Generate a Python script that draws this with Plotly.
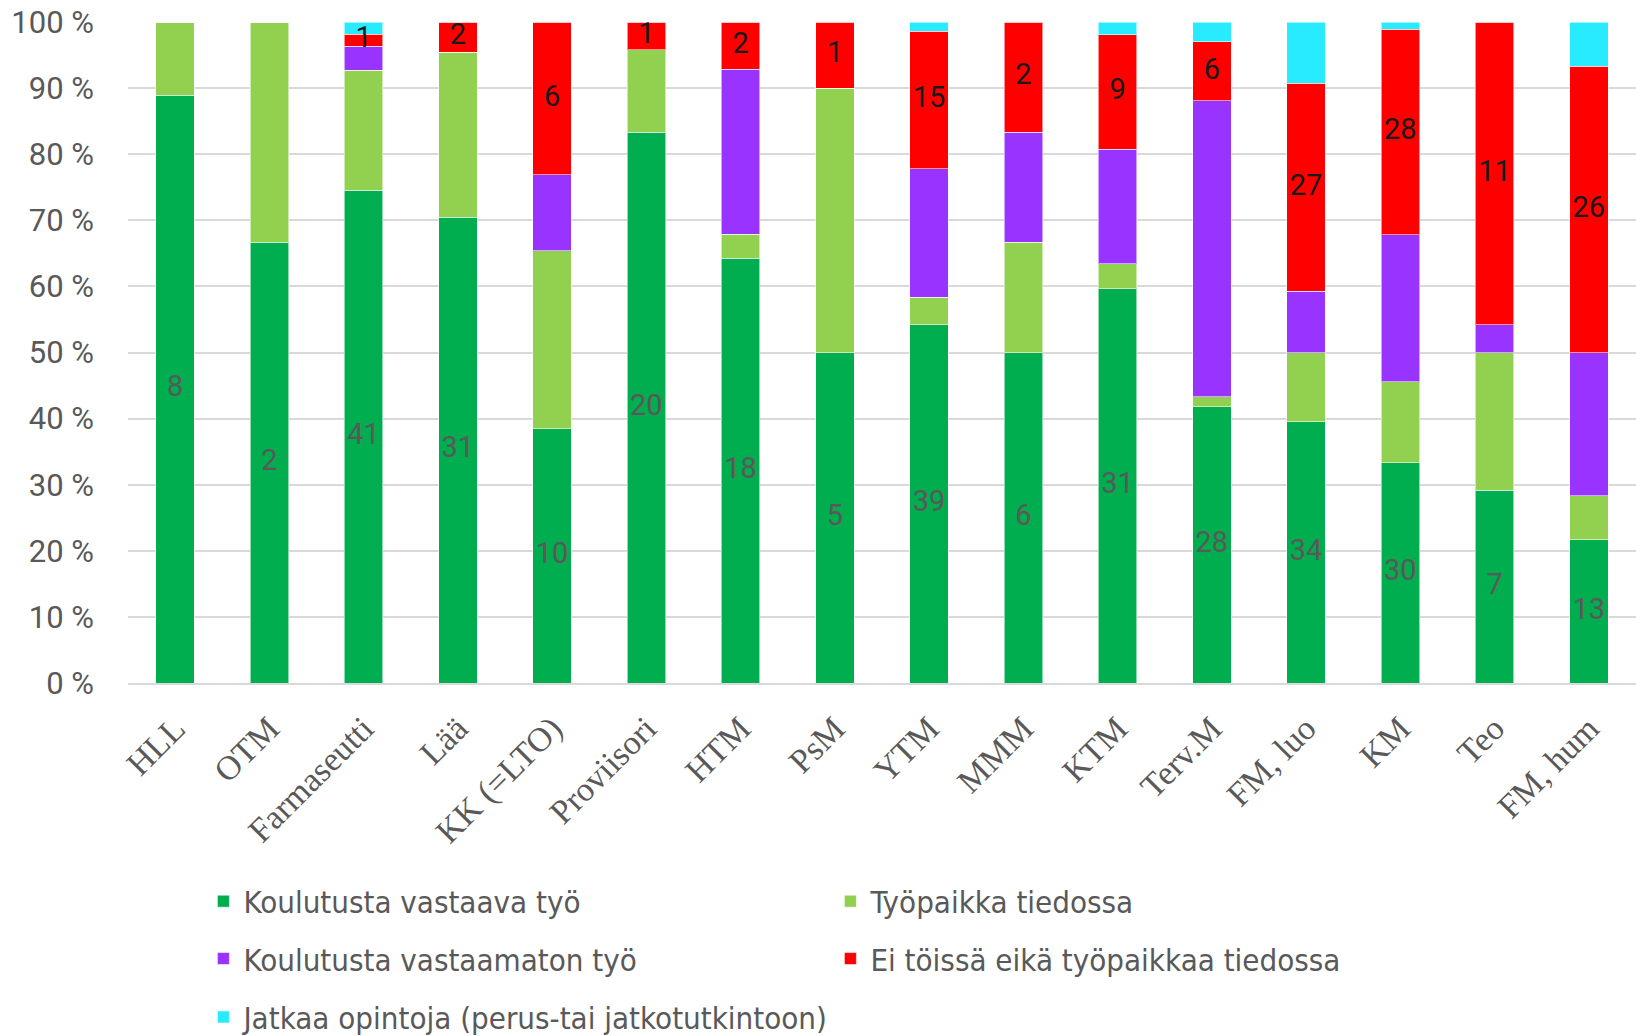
import plotly.graph_objects as go

categories = ["HLL", "OTM", "Farmaseutti", "Lää", "KK (=LTO)", "Proviisori", "HTM", "PsM",
              "YTM", "MMM", "KTM", "Terv.M", "FM, luo", "KM", "Teo", "FM, hum"]

koulutusta_vastaava = [8, 2, 41, 31, 10, 20, 18, 5, 39, 6, 31, 28, 34, 30, 7, 13]
tyopaikka_tiedossa = [1, 1, 10, 11, 7, 3, 1, 4, 3, 2, 2, 1, 9, 11, 5, 4]
koulutusta_vastaamaton = [0, 0, 2, 0, 3, 0, 7, 0, 14, 2, 9, 30, 8, 20, 1, 13]
ei_toissa = [0, 0, 1, 2, 6, 1, 2, 1, 15, 2, 9, 6, 27, 28, 11, 26]
jatkaa_opintoja = [0, 0, 1, 0, 0, 0, 0, 0, 1, 0, 1, 2, 8, 1, 0, 4]

series = [
    ("Koulutusta vastaava työ", koulutusta_vastaava, "#00AD4F", "#595959", "legend"),
    ("Työpaikka tiedossa", tyopaikka_tiedossa, "#92D050", None, "legend"),
    ("Koulutusta vastaamaton työ", koulutusta_vastaamaton, "#9933FF", None, "legend2"),
    ("Ei töissä eikä työpaikkaa tiedossa", ei_toissa, "#FF0000", "#1a1a1a", "legend2"),
    ("Jatkaa opintoja (perus-tai jatkotutkintoon)", jatkaa_opintoja, "#29EBFF", None, "legend3"),
]

totals = [sum(s[1][i] for s in series) for i in range(len(categories))]

fig = go.Figure()
base = [0.0] * len(categories)
label_traces = []
for name, vals, color, tcolor, leg in series:
    fig.add_trace(go.Bar(name=name, x=categories, y=vals,
                         marker=dict(color=color, line=dict(color="rgba(255,255,255,0.55)", width=1)),
                         legend=leg, textposition="none", hoverinfo="skip"))
    if tcolor:
        mids = [(base[i] + vals[i] / 2) / totals[i] * 100 for i in range(len(categories))]
        txt = [str(v) if v else "" for v in vals]
        label_traces.append(go.Scatter(x=categories, y=mids, text=txt, mode="text",
                                       textposition="middle center", showlegend=False,
                                       textfont=dict(family="Roboto", size=29, color=tcolor),
                                       cliponaxis=False, hoverinfo="skip"))
    base = [base[i] + vals[i] for i in range(len(categories))]

for t in label_traces:
    fig.add_trace(t)

legend_common = dict(orientation="h", xanchor="left", yanchor="middle", traceorder="normal",
                     font=dict(family="DejaVu Sans Condensed, Liberation Sans Narrow, sans-serif",
                               size=31, color="#595959"),
                     entrywidth=582, entrywidthmode="pixels", bgcolor="rgba(0,0,0,0)",
                     itemclick=False)

fig.update_layout(
    barmode="stack", barnorm="percent", bargap=0.59,
    width=1636, height=1036,
    margin=dict(l=128, r=0, t=22, b=353, autoexpand=False),
    plot_bgcolor="white", paper_bgcolor="white",
    legend=dict(x=0.050, y=-0.3306, **legend_common),
    legend2=dict(x=0.050, y=-0.4174, **legend_common),
    legend3=dict(x=0.050, y=-0.5058, **legend_common),
    xaxis=dict(range=[-0.5, 15.5], tickangle=-45, automargin=False,
               tickfont=dict(family="Liberation Serif, DejaVu Serif, serif", size=34, color="#595959"),
               ticklabelstandoff=10,
               showgrid=False, showline=True, linecolor="#d9d9d9", linewidth=2, ticks=""),
    yaxis=dict(range=[0, 100], dtick=10, ticksuffix=" %", showgrid=True, gridcolor="#d9d9d9",
               gridwidth=2, zeroline=False, ticks="", automargin=False, ticklabelstandoff=33,
               tickfont=dict(family="Roboto", size=31, color="#595959")),
)

fig.write_html("out.html", config={"displayModeBar": False},
               post_script="document.body.style.margin='0';")
